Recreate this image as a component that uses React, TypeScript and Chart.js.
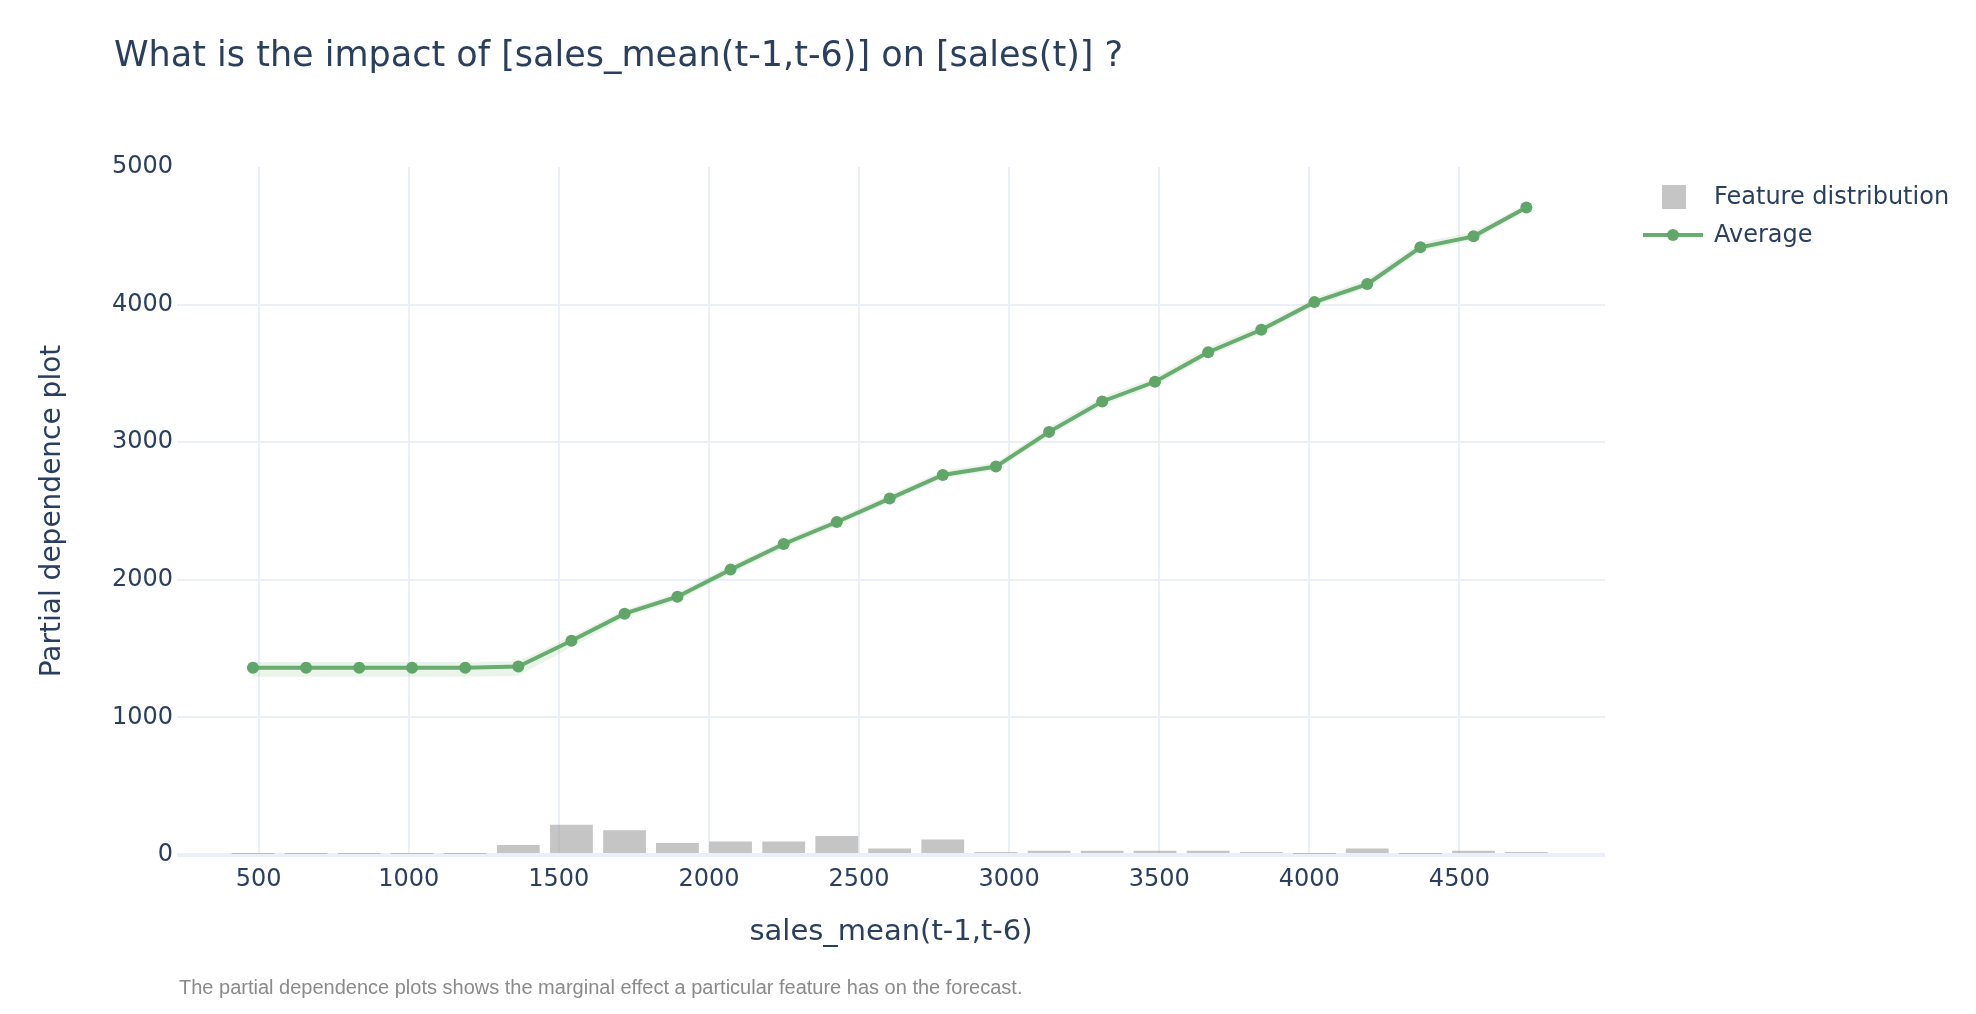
import React, { useEffect, useRef } from "react";
import { Chart, registerables, Plugin } from "chart.js";

Chart.register(...registerables);

// Bin centres of sales_mean(t-1,t-6)
const binCenters = [
  481, 658, 835, 1011, 1188, 1365, 1542, 1719, 1895, 2072, 2249, 2426, 2602,
  2779, 2956, 3133, 3310, 3486, 3663, 3840, 4017, 4193, 4370, 4547, 4723,
];

// Feature distribution (scaled counts)
const featureDistribution = [
  8, 8, 8, 8, 8, 73, 220, 180, 88, 99, 99, 138, 47, 112, 21, 31, 31, 31, 31,
  21, 8, 47, 8, 31, 21,
];

// Partial dependence: average and band
const averageValues = [
  1360, 1360, 1360, 1360, 1360, 1370, 1557, 1754, 1877, 2074, 2260, 2420, 2590,
  2762, 2823, 3075, 3296, 3439, 3654, 3817, 4018, 4149, 4416, 4496, 4706,
];
const upperValues = [
  1402, 1402, 1402, 1402, 1402, 1408, 1590, 1782, 1905, 2102, 2290, 2450, 2620,
  2792, 2852, 3110, 3330, 3472, 3690, 3850, 4050, 4185, 4450, 4530, 4732,
];
const lowerValues = [
  1295, 1295, 1295, 1295, 1295, 1302, 1512, 1722, 1850, 2045, 2230, 2395, 2565,
  2735, 2800, 3045, 3265, 3410, 3625, 3790, 3990, 4120, 4385, 4470, 4685,
];

const xTicks = [500, 1000, 1500, 2000, 2500, 3000, 3500, 4000, 4500];
const yTicks = [0, 1000, 2000, 3000, 4000, 5000];

const FONT = "'DejaVu Sans', Verdana, sans-serif";
const TEXT_COLOR = "#2a3f5f";
const GRID_COLOR = "#ebf0f8";
const BAR_COLOR = "rgba(150, 150, 150, 0.55)";
const LINE_COLOR = "rgb(104, 172, 111)";
const POINT_COLOR = "rgb(96, 166, 104)";
const BAND_COLOR = "rgba(106, 178, 112, 0.14)";

const toPoints = (ys: number[]) => binCenters.map((x, i) => ({ x, y: ys[i] }));

// Title, axis titles, legend and footnote
const overlayTexts: Plugin = {
  id: "overlayTexts",
  afterDraw(chart) {
    const ctx = chart.ctx;
    const area = chart.chartArea;
    ctx.save();
    ctx.fillStyle = TEXT_COLOR;
    ctx.textBaseline = "middle";

    ctx.font = `35px ${FONT}`;
    ctx.textAlign = "left";
    ctx.fillText("What is the impact of [sales_mean(t-1,t-6)] on [sales(t)] ?", 114, 57);

    ctx.font = `29px ${FONT}`;
    ctx.textAlign = "center";
    ctx.fillText("sales_mean(t-1,t-6)", (area.left + area.right) / 2, 932);

    ctx.font = `28px ${FONT}`;
    ctx.save();
    ctx.translate(53, (area.top + area.bottom) / 2);
    ctx.rotate(-Math.PI / 2);
    ctx.fillText("Partial dependence plot", 0, 0);
    ctx.restore();

    // legend
    ctx.fillStyle = BAR_COLOR;
    ctx.fillRect(1662, 185, 24, 24);
    ctx.strokeStyle = LINE_COLOR;
    ctx.lineWidth = 4;
    ctx.beginPath();
    ctx.moveTo(1643, 235);
    ctx.lineTo(1703, 235);
    ctx.stroke();
    ctx.fillStyle = POINT_COLOR;
    ctx.beginPath();
    ctx.arc(1673, 235, 6, 0, Math.PI * 2);
    ctx.fill();

    ctx.fillStyle = TEXT_COLOR;
    ctx.font = `24px ${FONT}`;
    ctx.textAlign = "left";
    ctx.fillText("Feature distribution", 1714, 198);
    ctx.fillText("Average", 1714, 236);

    ctx.fillStyle = "#8a8a8a";
    ctx.font = "20px 'Liberation Sans'";
    ctx.fillText(
      "The partial dependence plots shows the marginal effect a particular feature has on the forecast.",
      179,
      988
    );
    ctx.restore();
  },
};

export default function App() {
  const canvasRef = useRef<HTMLCanvasElement | null>(null);

  useEffect(() => {
    if (!canvasRef.current) return;
    Chart.defaults.font.family = FONT;
    Chart.defaults.color = TEXT_COLOR;

    const chart = new Chart(canvasRef.current, {
      type: "bar",
      data: {
        datasets: [
          {
            type: "line",
            label: "Average",
            data: toPoints(averageValues),
            borderColor: LINE_COLOR,
            borderWidth: 4,
            pointRadius: 6,
            pointBackgroundColor: POINT_COLOR,
            pointBorderWidth: 0,
            fill: false,
            order: 0,
          },
          {
            type: "line",
            label: "upper",
            data: toPoints(upperValues),
            borderWidth: 0,
            pointRadius: 0,
            backgroundColor: BAND_COLOR,
            fill: "+1",
            order: 1,
          },
          {
            type: "line",
            label: "lower",
            data: toPoints(lowerValues),
            borderWidth: 0,
            pointRadius: 0,
            fill: false,
            order: 1,
          },
          {
            type: "bar",
            label: "Feature distribution",
            data: toPoints(featureDistribution),
            backgroundColor: BAR_COLOR,
            barPercentage: 0.9,
            categoryPercentage: 0.9,
            order: 2,
          },
        ],
      },
      options: {
        animation: false,
        responsive: false,
        devicePixelRatio: 1,
        events: [],
        layout: { padding: { left: 0, right: 371, top: 167, bottom: 0 } },
        plugins: {
          legend: { display: false },
          tooltip: { enabled: false },
        },
        scales: {
          x: {
            type: "linear",
            min: 228,
            max: 4985,
            offset: false,
            afterBuildTicks: (scale) => {
              scale.ticks = xTicks.map((value) => ({ value }));
            },
            grid: {
              offset: false,
              color: GRID_COLOR,
              lineWidth: 2,
              drawTicks: false,
            },
            border: { display: false },
            ticks: {
              padding: 10,
              font: { size: 24 },
              color: TEXT_COLOR,
              callback: (value) => String(value),
            },
            afterFit: (scale) => {
              scale.height = 159;
            },
          },
          y: {
            type: "linear",
            min: yTicks[0],
            max: yTicks[yTicks.length - 1],
            afterBuildTicks: (scale) => {
              scale.ticks = yTicks.map((value) => ({ value }));
            },
            grid: {
              color: (c) => (c.tick && c.tick.value === 5000 ? "rgba(0,0,0,0)" : GRID_COLOR),
              lineWidth: (c) => (c.tick && c.tick.value === 0 ? 4 : 2),
              drawTicks: false,
            },
            border: { display: false },
            ticks: {
              padding: 4,
              font: { size: 24 },
              color: TEXT_COLOR,
              callback: (value) => String(value),
            },
            afterFit: (scale) => {
              scale.width = 177;
            },
          },
        },
      },
      plugins: [overlayTexts],
    });

    return () => {
      chart.destroy();
    };
  }, []);

  return (
    <div style={{ position: "absolute", left: 0, top: 0, width: 1976, height: 1014, background: "#fff" }}>
      <canvas ref={canvasRef} width={1976} height={1014} />
    </div>
  );
}
